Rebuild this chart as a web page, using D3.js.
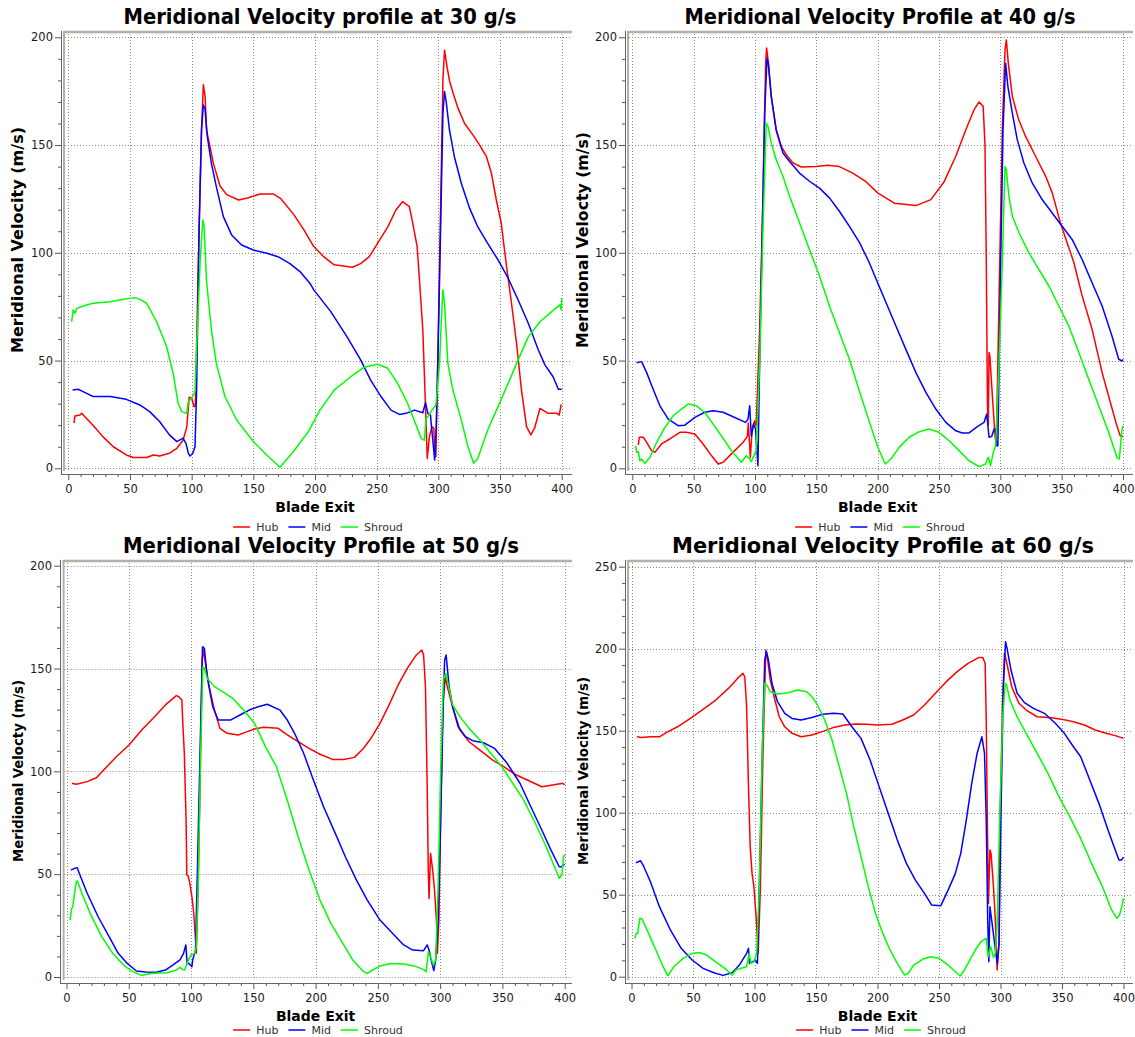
<!DOCTYPE html>
<html><head><meta charset="utf-8">
<script src="https://cdnjs.cloudflare.com/ajax/libs/d3/7.8.5/d3.min.js"></script>
<style>html,body{margin:0;padding:0;background:#fff;} svg{display:block;}</style>
</head><body>
<svg id="chart" width="1135" height="1037"></svg>
<script>
const seriesNames = ["Hub", "Mid", "Shroud"];
const seriesColors = ["#ff0000", "#0000ff", "#00ff00"];
const xTickLabels = [0, 50, 100, 150, 200, 250, 300, 350, 400];
const titles = ["Meridional Velocity profile at 30 g/s", "Meridional Velocity Profile at 40 g/s",
                "Meridional Velocity Profile at 50 g/s", "Meridional Velocity Profile at 60 g/s"];
const yLabels = ["Meridional Velocity (m/s)", "Meridional Velocty (m/s)", "Meridional Velocty (m/s)", "Meridional Velocity (m/s)"];
const xLabel = "Blade Exit";
const yMaxes = [200, 200, 200, 250];

const hub30 = [[4.6,21],[5.4,24.3],[9.5,24.7],[10.8,25.5],[20,20],[28,14.7],[36.5,10],[47,6.2],[52.7,5],[63.5,5],[69,6.2],[74,5.7],[82,7],[88,9.3],[93,13],[96,19],[98,33],[100,32.5],[102,28.6],[103,29],[105.4,95],[108,157],[109.5,178],[111,172],[112,157],[115,149],[117.6,141.5],[123,131],[128.4,127],[138,124.5],[144.6,125.3],[155.4,127.3],[166,127.3],[172,125.3],[183,117.6],[191,110.6],[199,102.9],[207,98.2],[215.5,94.4],[230.4,93.3],[237,95],[244,98.2],[250.7,104.4],[259,112],[265.7,120],[271,123.7],[276.5,121.4],[279,114.5],[282.8,102.9],[284.7,87.4],[287.4,64.2],[289.3,33.3],[291,4.6],[292.8,14.7],[294.7,19.3],[296.3,18.6],[297.4,5.4],[298,5.4],[301,95],[303.7,180],[305,194],[307,186.4],[309,180],[312,174],[316,167],[321.3,160],[328,154.7],[333.5,150],[339,144.6],[343,137],[347,124.5],[351,113.7],[355,95],[359.3,76.6],[363.4,58],[367.4,36.3],[371.5,19.3],[375,15.5],[378,18.6],[382.4,27.8],[389,25.5],[396,25.5],[398,24.7],[399.5,29.4],[400,29.5]];
const mid30 = [[3.5,36.3],[8,36.7],[12,35.6],[20,33.3],[34,33.3],[47,32],[58,29.4],[66,26.3],[74,21.7],[82,15.5],[88,12.4],[93,14],[95.4,11.6],[97.3,7],[98.6,5.7],[101,7],[102.7,10],[104,36],[106,110.6],[108,157],[109.5,168.6],[110.8,167],[112.7,154],[116,141.5],[120,130.7],[125.7,116.8],[132.4,108.3],[140.5,103.6],[150,101.3],[161,99.8],[170,98.2],[179.7,95],[187.8,91.3],[196,85.8],[199,82.8],[212.8,72.7],[226,61],[237,50.3],[245,41],[253.5,33.3],[261.6,27],[268.4,25],[273.8,25.5],[280.6,27],[287.4,25.8],[289.6,30.5],[291.5,25.5],[293.6,24.7],[295.5,13],[297,3.9],[298.2,17.8],[299.6,48.7],[301.8,110.6],[303.7,164.7],[305,174.8],[306.4,170],[309,157],[313,144.6],[318.6,132.3],[325.4,120.6],[332,112],[340,104.4],[348.4,96.7],[356.6,88.2],[364.7,78.1],[372.9,67.3],[381,55],[386.4,48],[393,42.5],[397.3,36.7],[400,36.7]];
const shroud30 = [[2.7,68],[4,73.5],[5.4,72],[6.8,74.2],[14.9,75.8],[20,76.6],[34,77.3],[44.6,78.4],[54,79.2],[58,78.4],[63.5,76.6],[71.6,68],[79.7,56.5],[85,44],[89,30.2],[92,26.3],[96,25.5],[97.3,31],[100,32.5],[102.7,35.6],[104.6,64],[106.8,95],[109,115.2],[110,113],[112,87.4],[116,64.2],[120,48.7],[127,33.3],[136.5,22.4],[150,12.4],[160.8,6.2],[171.6,0.5],[182.4,7.7],[194.6,17],[204,27],[215.5,36.3],[229,42.5],[240,46.9],[250.7,48.3],[259,46.4],[267,39.4],[275,30.2],[282,20],[286,14],[288.7,13],[290,23],[291.5,24],[294,26.3],[298,29.4],[301,48.7],[302.3,67.3],[303.7,82.8],[305,76.6],[307.7,48.7],[311.8,36.3],[318.6,22.4],[324,10],[328.6,2.3],[332,4.6],[340,17.8],[348.4,28.6],[356.6,39.4],[364.7,50.3],[372.9,61],[382.4,68],[391.9,72.7],[398.6,75.8],[399.5,73.5],[400,79]];

const hub40 = [[4.9,10.8],[5.7,14.4],[9,14.4],[11.7,12],[15.7,8.2],[18.4,7.4],[23.8,11.3],[30.6,13.6],[38.8,16.7],[44,16.7],[51,15.9],[57.7,11.3],[64.5,5.9],[70,2],[74,2.8],[82,7.4],[90.2,12],[93.8,14.8],[94.6,21],[96.2,5],[97.8,19],[99.7,22],[101,19.8],[103.8,64.5],[106.5,126],[108.7,188],[109.5,195],[111,188],[113.3,172.5],[117.3,157],[121.4,149.4],[125.5,145.5],[131,141.7],[137.7,139.8],[150,140],[159.3,140.6],[168.8,140],[179.7,137],[190.5,133],[200,127.8],[213.6,123],[231.2,121.9],[243.4,124.7],[254.2,133],[263.7,144.8],[271.8,157],[278.6,166.4],[282.7,170],[286,168],[287.5,150],[288.5,100],[289.5,30],[290.2,20],[290.8,53.7],[291.5,52],[293.5,33.6],[295.7,15],[296.7,10.5],[299,80],[301.6,157],[303.8,194],[304.9,198.8],[306.5,188],[309.8,172.5],[315,161.7],[320.6,154],[328.7,144.8],[337,135.5],[342.3,127.8],[349,113.9],[354.5,104.6],[360,95.4],[366.7,80],[374.8,64.5],[383,44.4],[389.7,30.5],[395,19.7],[397.8,15],[400,14.8]];
const mid40 = [[3.5,49],[7.6,49.5],[11.7,44.4],[17,36.7],[22.5,29],[29.3,22.8],[37.4,19.8],[42.8,20],[51,23.6],[59,26],[65.9,26.7],[74,26],[83.5,23.6],[92.4,21.3],[94.3,22.8],[95.7,29],[97,15],[99,20.5],[100.5,18.2],[102.4,1.2],[103.8,49],[106,110.8],[107.9,164.8],[109.8,190.3],[110.8,188],[113.3,172.5],[117.3,157],[122.8,146.3],[128.2,142.4],[136.3,137],[144.4,133.2],[152.6,130],[160.7,125.5],[168.8,119.3],[177,112.3],[185,105],[193.2,95.4],[200,86.1],[206.8,76.9],[214.9,66],[223,55.2],[231.2,44.4],[239.3,35.2],[247.4,27.5],[255.6,21.3],[263.7,17.4],[269,16.4],[274.5,16.4],[281.3,19.3],[286.7,21.3],[288.9,25.2],[290.8,14.4],[293,14.8],[294.9,18.2],[296.2,18.2],[297,10.5],[298,10.5],[300.3,95.4],[302.2,157],[304.3,188],[306.2,177],[309.8,164.8],[313.8,152.5],[319.2,141.7],[326,132.4],[334.1,124.7],[342.3,118.5],[350.4,112.3],[358.5,106.2],[366.7,96.9],[374.8,86.1],[383,75.3],[391,61.4],[396.5,50.6],[399.2,49.8],[400,50.6]];
const shroud40 = [[2.7,10.5],[3.5,7.4],[4.9,7.7],[6.2,3.5],[7.6,4.3],[10.3,2.3],[14.4,5.1],[19.8,12],[26.6,19],[33.3,24.4],[40.1,27.5],[45.5,29.8],[52.3,29],[59,26],[65.9,20.5],[72.6,15.1],[80.8,8.2],[88.9,2.8],[93,5.9],[95.7,4.3],[97,3],[98.4,5.1],[99.7,6.6],[101,8.2],[103.8,49],[106.5,110.8],[109.2,160.2],[110.6,158.6],[113.3,151],[117.3,143.2],[122.8,135.5],[128.2,126.2],[136.3,113.9],[144.4,101.5],[152.6,89.2],[160.7,75.3],[168.8,63],[177,50.6],[185,36],[193,22],[200,10],[206.2,2],[210.8,4.3],[217.6,9.7],[225.7,14.4],[233.9,17],[242,18.2],[250,16.7],[258.3,12.8],[266.4,8.2],[274.5,3.5],[282.7,0.8],[288,2],[290.2,5.1],[292,1.2],[294.3,7.4],[296.2,10.5],[299,49],[301.6,95.4],[303.8,140],[304.9,138.6],[307,126.2],[309.8,117],[315.2,109.3],[323.3,100],[331.4,92.3],[339.6,84.6],[347.7,75.3],[355.8,66],[364,53.7],[372,41.4],[380.2,29],[388.3,16.7],[395,5.1],[397,4.3],[399.2,18.2],[400,19.8]];

const hub50 = [[4.4,94.2],[7.9,93.7],[16.6,95],[24,96.9],[31.2,101.5],[40,107.1],[50.2,112.8],[60.4,120.1],[70.7,126.6],[79.4,132.3],[88.2,136.8],[90.2,136.3],[92.6,134.7],[93.4,123.3],[94.6,108.8],[96,76.3],[96.6,49.6],[97.8,49.1],[99,45.5],[100.7,39],[102.2,31],[103.6,18],[104.2,11.5],[105.7,44],[107.2,92.5],[108.9,154.1],[110,159],[111.5,152.5],[114.5,141.2],[118.8,129.8],[123.2,120.9],[129,118.5],[137.8,117.7],[145.1,119.3],[151,120.6],[158.2,121.4],[170,120.9],[177.2,117.7],[186,114.4],[194.7,111.2],[203.5,108.3],[213.7,105.8],[222.5,105.8],[231.2,106.8],[238.5,111.2],[244.4,116],[251.7,123.3],[259,132.3],[266.3,142],[273.6,150.1],[280.9,156.6],[285.3,159],[286.7,156.6],[288.2,141.2],[289.6,92.5],[290.5,50.4],[291.1,38.2],[292.3,60.1],[294,52],[295.5,42.3],[297,27.7],[297.8,11.5],[299,27.7],[300.4,76.3],[302.2,133],[304.2,146],[305.7,141.2],[310,131.4],[315.9,120.1],[323.2,114.4],[331.7,110.4],[342.2,105.5],[351,102.3],[361.2,98.2],[370,95.8],[381.6,92.5],[390.4,93.4],[398.5,94.2],[400,93.4]];
const mid50 = [[3.5,52],[6.4,52.8],[8.5,53.2],[10.8,49.6],[16.6,40.7],[25.4,29.3],[34.2,19.6],[41.5,11.5],[48.8,6.6],[56.1,2.9],[63.4,2.4],[72.1,2.3],[79.4,3.4],[85.3,5.8],[91.1,8.3],[94,11.5],[95.8,15.6],[96.9,6.6],[98.4,6.6],[100.7,5],[101.3,8.3],[102.8,11.5],[103.6,13.1],[105.1,52],[107.2,108.8],[109.2,160.6],[110.7,159.8],[113,146],[117.4,131.4],[121.8,125],[126.1,125],[132,125],[139.3,127.4],[146.6,129.8],[153.9,131.4],[161.2,132.6],[171.4,129.8],[177.2,125],[183.1,118.5],[190.4,108.8],[197.7,96.6],[206.4,82.8],[215.2,70.7],[223.9,58.5],[232.7,47.2],[241.5,37.4],[251.7,27.7],[261.9,21.2],[270.7,15.6],[278,13.1],[286.7,12.8],[289.6,15.6],[291.1,13.1],[293.4,6.6],[294.9,3.1],[296.4,8.3],[298.4,27.7],[300.4,76.3],[302.2,125],[303.6,154.1],[304.8,156.6],[307.2,141.2],[310,131.4],[314.5,121.7],[320.3,116.9],[326.1,114.9],[334.9,113.9],[343.6,111.2],[353.8,103.9],[364.1,94.2],[372.8,82.8],[381.6,71.5],[388.9,61.8],[395.6,53.6],[397.7,53.6],[399.1,54.5],[400,54.8]];
const shroud50 = [[2.9,27.7],[4.1,33.4],[5,33.9],[6.4,40.7],[7.9,46.4],[8.8,46.7],[12.3,40.7],[19.6,30.1],[28.3,19.6],[37.1,11.5],[45.8,5.8],[53.1,2.6],[60.4,0.8],[69.2,1.8],[80.9,2.1],[88.2,3.4],[91.1,4.7],[93.1,3.7],[94.9,3.4],[96.9,6.6],[99.9,10.7],[102.8,11.5],[104.2,14.7],[105.7,44],[107.7,108.8],[109.5,150.9],[110.7,150.1],[113,145.2],[118.8,141.2],[127.6,137.9],[133.4,135.5],[142.2,129.8],[151,123.3],[159.7,112],[168.5,102.3],[177.2,86.1],[186,68.2],[194.7,52],[203.5,37.4],[212.3,26.1],[221,17.2],[229.8,8.3],[238.5,2.6],[241.5,1.8],[245.8,3.4],[251.7,5.3],[260.4,6.6],[270.7,6.3],[279.4,5.3],[286.7,3.7],[288.8,2.6],[290.5,12.3],[292.6,9.1],[294.6,5.8],[296.4,8.3],[298.4,44],[300.4,100.6],[302.6,144.4],[304.5,147.6],[306.3,142.8],[310,132.3],[315.9,126.6],[323.2,120.9],[331.9,115.2],[340.7,108.8],[349.5,102.3],[358.2,94.2],[367,86.1],[375.8,75.5],[384.5,64.2],[391.8,53.6],[395.6,48],[397.7,49.6],[399.1,58.5],[400,59.6]];

const hub60 = [[4.4,146.3],[8,145.9],[15.4,146.3],[22.7,146.3],[28.6,149],[37.5,152.4],[47.8,157.5],[58.2,163],[68.5,168.7],[78.8,175.8],[86.2,181.9],[90.6,185],[92.1,182.9],[93.6,164.6],[95.1,115.9],[96.5,79.3],[98,63],[99.5,54.9],[101.5,34.6],[103,14.2],[104.8,54.9],[106.9,136.2],[109.2,199.2],[110.7,193.1],[112.8,180.9],[116.6,168.7],[120.1,158.5],[124.6,152.4],[130.5,148.4],[137.9,146.3],[146.7,147.4],[155.6,149.6],[164.4,152],[173.3,153.5],[182.1,154.1],[191,153.9],[199.9,153.5],[211.7,153.9],[220.5,156.5],[229.4,159.6],[238.2,165.7],[247.1,172.8],[255.9,179.9],[264.8,186],[273.6,191.1],[282.5,194.7],[285.5,194.7],[287.5,191.1],[288.4,156.5],[289.3,95.5],[290.2,44.7],[291.4,77.2],[292.3,75.2],[294.3,54.9],[295.8,34.6],[297.3,4.1],[298.8,20.3],[299.6,95.5],[301.7,166.7],[303.2,197.2],[304.6,193.1],[309.1,176.8],[315,166.7],[320.9,162.6],[329.8,158.5],[341.6,157.9],[350.5,156.9],[359.3,155.5],[368.2,153.5],[377,150.4],[385.9,148.4],[394.7,146.7],[400,145.3]];
const mid60 = [[3.5,69.5],[7.4,70.7],[9.4,68.1],[15.4,57.9],[22.7,42.7],[31.6,28.5],[40.4,17.3],[49.3,10.2],[58.2,5.1],[67,2.4],[74.4,0.8],[81.8,2.4],[87.7,7.1],[93.6,14.2],[95.1,17.3],[95.9,8.1],[98,9.1],[101,9.8],[102.4,8.1],[103.9,54.9],[106.3,136.2],[108.3,193.1],[109.8,198.2],[111.3,193.1],[114.2,178.9],[118.7,167.7],[124.6,160.6],[130.5,157.5],[137.9,156.5],[146.7,158.1],[155.6,160],[164.4,160.6],[171.8,160.2],[179.2,152.4],[186.6,145.3],[194,132.1],[201.3,115.9],[208.7,99.6],[216.1,83.3],[223.5,69.1],[230.8,58.9],[238.2,50.8],[244.1,43.7],[251.5,43.3],[257.4,52.8],[263.3,63],[267.7,75.2],[272.2,95.5],[276.6,117.9],[281,136.2],[284.9,146.3],[287,136.2],[288.4,95.5],[289.6,34.6],[290.5,9.1],[291.4,42.7],[292.8,34.6],[295.2,20.3],[297.3,8.1],[298.8,20.3],[300.3,95.5],[302.3,176.8],[304.1,204.3],[305.6,199.2],[308.5,187],[313.5,172.8],[319.5,167.1],[326.8,163.6],[335.7,160.6],[344.6,154.5],[351.9,148.4],[359.3,140.2],[365.2,134.1],[372.6,119.9],[380,105.7],[387.4,89.4],[393.3,77.2],[396.3,71.1],[398.3,71.1],[400,72.8]];
const shroud60 = [[2.7,23.4],[3.8,26.4],[5,26.4],[6.8,35.6],[8.6,35.2],[13.9,26.4],[19.8,16.3],[25.7,6.1],[29.5,0.6],[34.5,6.1],[41.9,11.2],[49.3,14.2],[55.2,14.8],[61.1,13.2],[68.5,9.1],[75.9,5.1],[81.8,1],[84.7,4.1],[89.2,5.1],[93.6,6.1],[95.6,14.2],[97.1,8.1],[99.5,9.1],[101.8,14.2],[103.9,54.9],[106.3,136.2],[108.3,178.9],[110.1,177.8],[112.8,173.8],[118.7,172.4],[124.6,172.8],[130.5,173.8],[134.9,174.8],[142.3,173.8],[146.7,170.7],[151.2,165.7],[157.1,156.5],[163,144.3],[168.9,128],[174.8,111.8],[180.7,91.5],[186.6,73.2],[192.5,54.9],[198.4,38.6],[204.3,26.4],[210.2,16.3],[216.1,8.1],[222,1],[225,2],[229.4,7.1],[236.7,10.6],[242.7,12.2],[250,11.2],[257.4,7.1],[263.3,3],[267.2,0.4],[270.7,4.1],[275.2,10.2],[279.6,16.3],[284,21.3],[288.4,23.4],[289.9,12.2],[292,18.3],[294.3,11.8],[295.8,14.2],[297.3,32.5],[299.3,95.5],[301.7,156.5],[303.8,178.9],[305,177.8],[307.6,168.7],[313.5,158.5],[320.9,148.4],[329.8,136.2],[338.6,124],[347.5,109.8],[356.3,97.6],[365.2,84.3],[374,69.1],[382.9,54.9],[390.3,40.7],[394.7,35.6],[396.8,37.6],[398.6,42.7],[400,47.8]];

const seriesByPanel = [[hub30, mid30, shroud30], [hub40, mid40, shroud40], [hub50, mid50, shroud50], [hub60, mid60, shroud60]];

// layout (pixels)
const layouts = [
  {xr:[68.3,561.7], yr:[468.3,37.3], fL:64, fT:32, fR:572, fB:471, yAx:61, xAx:474, tX:320, tY:23.5, tW:393, tFs:21, yl:{x:18, cy:240, len:226, fs:15}, legY:531, legX:318},
  {xr:[632.3,1123], yr:[468.3,37.3], fL:628, fT:32, fR:1133, fB:471, yAx:625, xAx:474, tX:880, tY:23.5, tW:391, tFs:21, yl:{x:583, cy:240, len:216, fs:15}, legY:531, legX:880},
  {xr:[66.5,564.7], yr:[977,565.7], fL:63.6, fT:561, fR:572, fB:980, yAx:60, xAx:983, tX:321, tY:552.5, tW:396, tFs:21, yl:{x:18, cy:771, len:182, fs:13.5}, legY:1034, legX:318},
  {xr:[631.5,1123.5], yr:[976.7,566.7], fL:628, fT:561, fR:1133, fB:980, yAx:625, xAx:983, tX:883, tY:552.5, tW:422, tFs:22, yl:{x:583, cy:771, len:188, fs:13.5}, legY:1034, legX:881}
];

const svg = d3.select("#chart");
const FONT = "'DejaVu Sans', Verdana, sans-serif";

layouts.forEach((L, i) => {
  const g = svg.append("g");
  const ymax = yMaxes[i];
  const x = d3.scaleLinear().domain([0, 400]).range(L.xr);
  const y = d3.scaleLinear().domain([0, ymax]).range(L.yr);

  // grid
  const grid = g.append("g").attr("stroke", "#8a8a8a").attr("stroke-width", 1).attr("stroke-dasharray", "1,2");
  xTickLabels.forEach(v => grid.append("line").attr("x1", Math.round(x(v)) + 0.5).attr("x2", Math.round(x(v)) + 0.5).attr("y1", L.fT + 2).attr("y2", L.fB));
  d3.range(0, ymax + 1, 50).forEach(v => grid.append("line").attr("x1", L.fL + 1).attr("x2", L.fR).attr("y1", Math.round(y(v)) + 0.5).attr("y2", Math.round(y(v)) + 0.5));

  // frame
  g.append("line").attr("x1", L.fL).attr("x2", L.fL).attr("y1", L.fT - 1).attr("y2", L.fB).attr("stroke", "#b4b0a5").attr("stroke-width", 2);
  g.append("line").attr("x1", L.fL - 1).attr("x2", L.fR).attr("y1", L.fT).attr("y2", L.fT).attr("stroke", "#b4b0a5").attr("stroke-width", 2.5);

  // x axis
  const xAxis = d3.axisBottom(x).tickValues(d3.range(0, 401, 10)).tickFormat(d => d % 50 === 0 ? d : "").tickSizeOuter(0);
  const gx = g.append("g").attr("transform", `translate(0,${L.xAx})`).call(xAxis);
  gx.select(".domain").remove();
  gx.selectAll(".tick line").attr("y2", d => d % 50 === 0 ? 6 : 3).attr("stroke", "#555");
  gx.selectAll(".tick text").attr("y", 11).attr("fill", "#1a1a1a").style("font-family", FONT).style("font-size", "11.5px");
  g.append("line").attr("x1", L.yAx).attr("x2", L.fR).attr("y1", L.xAx + 0.5).attr("y2", L.xAx + 0.5).attr("stroke", "#666");

  // y axis
  const yAxis = d3.axisLeft(y).tickValues(d3.range(0, ymax + 1, 10)).tickFormat(d => d % 50 === 0 ? d : "").tickSizeOuter(0);
  const gy = g.append("g").attr("transform", `translate(${L.yAx},0)`).call(yAxis);
  gy.select(".domain").remove();
  gy.selectAll(".tick line").attr("x2", d => d % 50 === 0 ? -6 : -3).attr("stroke", "#555");
  gy.selectAll(".tick text").attr("x", -8).attr("fill", "#1a1a1a").style("font-family", FONT).style("font-size", "11.5px");
  g.append("line").attr("x1", L.yAx + 0.5).attr("x2", L.yAx + 0.5).attr("y1", L.fT - 1).attr("y2", L.xAx).attr("stroke", "#666");

  // series
  const line = d3.line().x(d => x(d[0])).y(d => y(d[1]));
  seriesByPanel[i].forEach((data, k) => {
    g.append("path").datum(data).attr("d", line).attr("fill", "none")
      .attr("stroke", seriesColors[k]).attr("stroke-width", 1.5).attr("stroke-linejoin", "round");
  });

  // title
  g.append("text").attr("x", L.tX).attr("y", L.tY).attr("text-anchor", "middle")
    .style("font-family", FONT).style("font-weight", "bold").style("font-size", L.tFs + "px")
    .attr("textLength", L.tW).attr("lengthAdjust", "spacingAndGlyphs").text(titles[i]);

  // y label
  g.append("text").attr("transform", `translate(${L.yl.x + 5},${L.yl.cy}) rotate(-90)`).attr("text-anchor", "middle")
    .style("font-family", FONT).style("font-weight", "bold").style("font-size", L.yl.fs + "px")
    .attr("textLength", L.yl.len).attr("lengthAdjust", "spacingAndGlyphs").text(yLabels[i]);

  // x label
  g.append("text").attr("x", (L.xr[0] + L.xr[1]) / 2).attr("y", L.xAx + 38).attr("text-anchor", "middle")
    .style("font-family", FONT).style("font-weight", "bold").style("font-size", "14px").text(xLabel);

  // legend
  const leg = g.append("g");
  let cx = 0;
  seriesNames.forEach((n, k) => {
    const it = leg.append("g");
    it.append("line").attr("x1", 0).attr("x2", 17).attr("y1", 0).attr("y2", 0).attr("stroke", seriesColors[k]).attr("stroke-width", 1.5);
    const t = it.append("text").attr("x", 23).attr("y", 4).attr("fill", "#333").style("font-family", FONT).style("font-size", "11px").text(n);
    const w = 23 + t.node().getComputedTextLength();
    it.attr("transform", `translate(${cx},0)`);
    cx += w + 10;
  });
  const totalW = cx - 10;
  leg.attr("transform", `translate(${L.legX - totalW / 2},${L.legY - 4})`);
});
</script>
</body></html>
